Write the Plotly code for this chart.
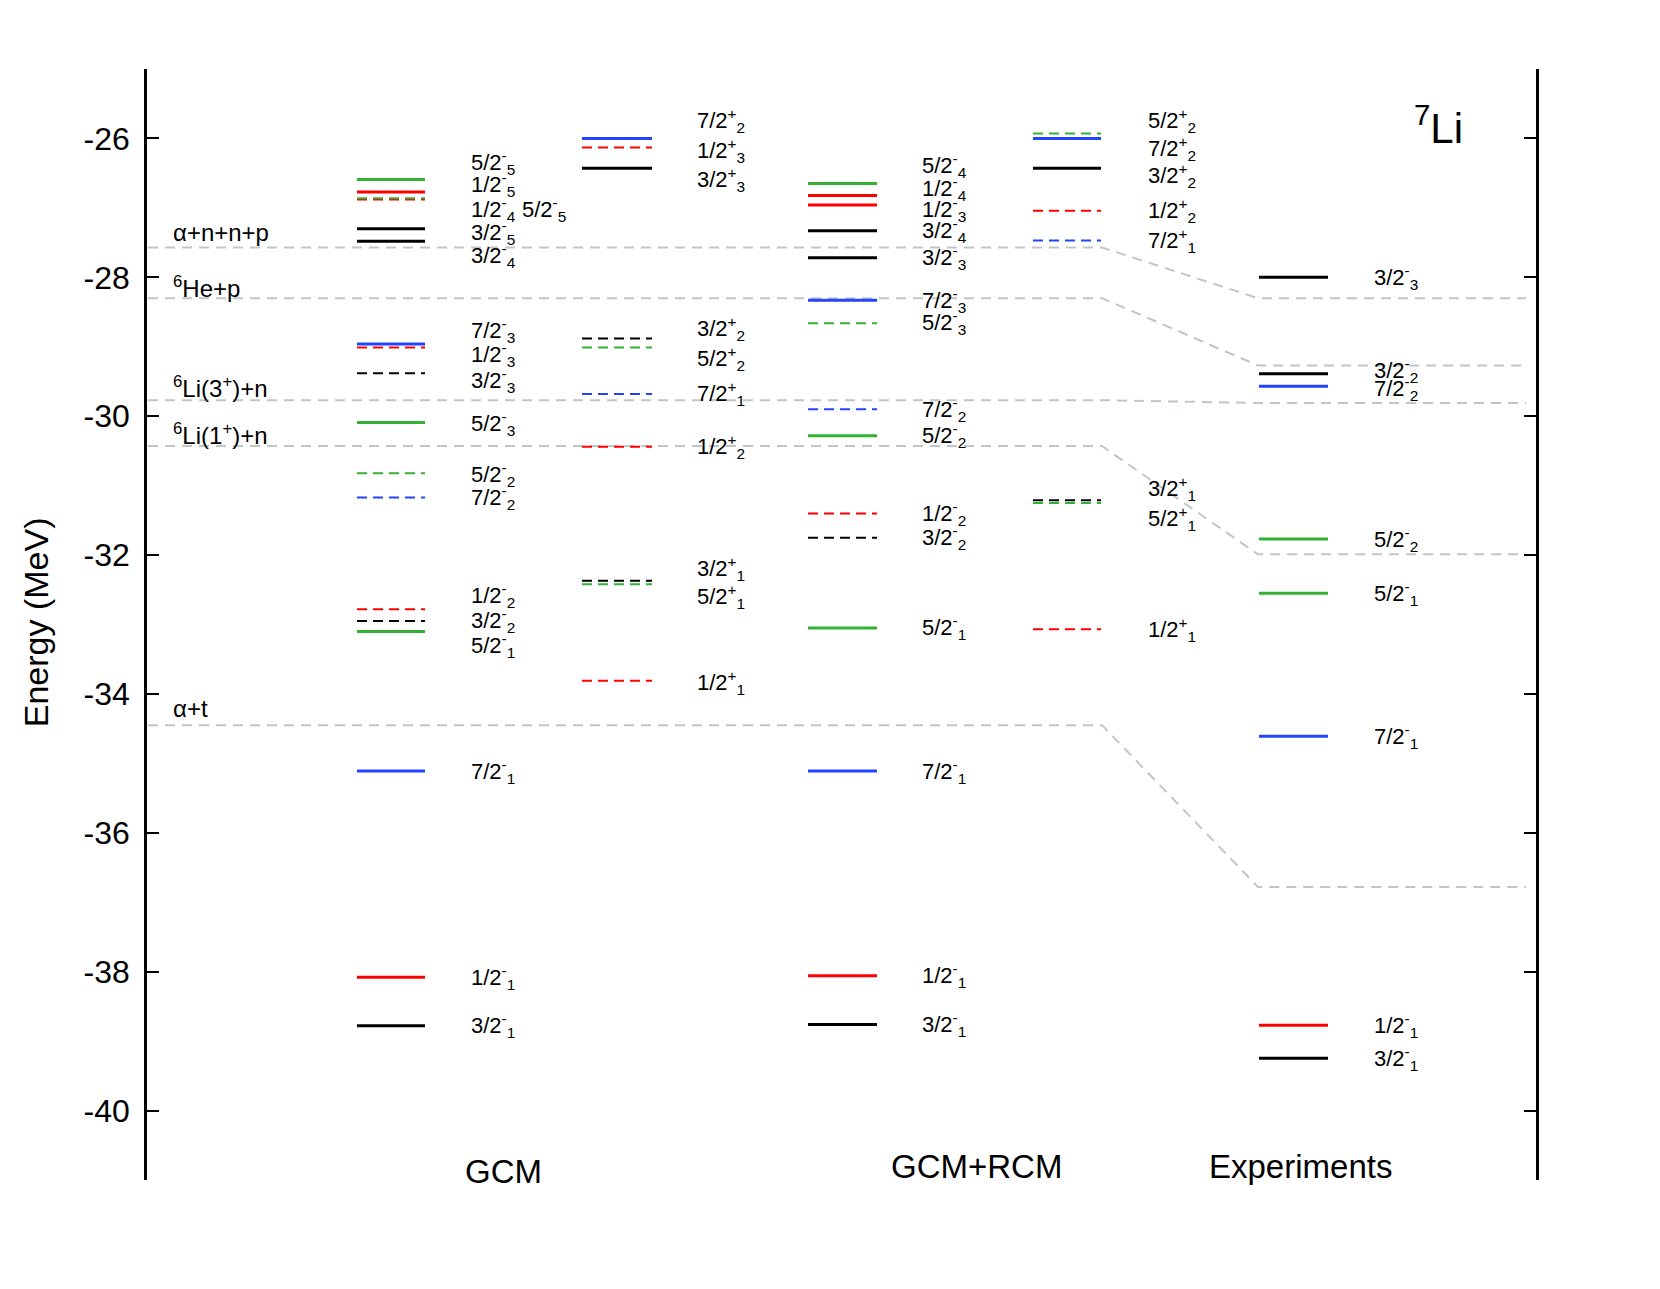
import plotly.graph_objects as go

# ---------------- data (energies in MeV) ----------------
gcm_neg_J = ["5/2", "1/2", "1/2", "5/2", "3/2", "3/2", "7/2", "1/2", "3/2", "5/2",
             "5/2", "7/2", "1/2", "3/2", "5/2", "7/2", "1/2", "3/2"]
gcm_neg_n = [5, 5, 4, 5, 5, 4, 3, 3, 3, 3, 2, 2, 2, 2, 1, 1, 1, 1]
gcm_neg_E = [-26.59, -26.77, -26.88, -26.86, -27.30, -27.48, -28.96, -29.01, -29.38, -30.09,
             -30.82, -31.17, -32.78, -32.95, -33.10, -35.11, -38.08, -38.78]
gcm_neg_dash = [0, 0, 1, 1, 0, 0, 0, 1, 1, 0, 1, 1, 1, 1, 0, 0, 0, 0]
gcm_neg_labE = [-26.34, -26.66, -27.03, -27.03, -27.35, -27.69, -28.76, -29.11, -29.48, -30.10,
                -30.84, -31.17, -32.58, -32.94, -33.30, -35.11, -38.08, -38.78]

gcm_pos_J = ["7/2", "1/2", "3/2", "3/2", "5/2", "7/2", "1/2", "3/2", "5/2", "1/2"]
gcm_pos_n = [2, 3, 3, 2, 2, 1, 2, 1, 1, 1]
gcm_pos_E = [-26.00, -26.13, -26.43, -28.88, -29.01, -29.68, -30.44, -32.37, -32.42, -33.81]
gcm_pos_dash = [0, 1, 0, 1, 1, 1, 1, 1, 1, 1]
gcm_pos_labE = [-25.74, -26.17, -26.59, -28.74, -29.17, -29.68, -30.44, -32.19, -32.60, -33.84]

rcm_neg_J = ["5/2", "1/2", "1/2", "3/2", "3/2", "7/2", "5/2", "7/2", "5/2", "1/2",
             "3/2", "5/2", "7/2", "1/2", "3/2"]
rcm_neg_n = [4, 4, 3, 4, 3, 3, 3, 2, 2, 2, 2, 1, 1, 1, 1]
rcm_neg_E = [-26.65, -26.82, -26.96, -27.33, -27.72, -28.33, -28.66, -29.90, -30.28, -31.40,
             -31.75, -33.05, -35.11, -38.06, -38.76]
rcm_neg_dash = [0, 0, 0, 0, 0, 0, 1, 1, 0, 1, 1, 0, 0, 0, 0]
rcm_neg_labE = [-26.39, -26.72, -27.02, -27.33, -27.72, -28.33, -28.65, -29.90, -30.28, -31.40,
                -31.75, -33.05, -35.11, -38.06, -38.76]

rcm_pos_J = ["5/2", "7/2", "3/2", "1/2", "7/2", "3/2", "5/2", "1/2"]
rcm_pos_n = [2, 2, 2, 2, 1, 1, 1, 1]
rcm_pos_E = [-25.93, -26.00, -26.43, -27.04, -27.47, -31.21, -31.25, -33.07]
rcm_pos_dash = [1, 0, 0, 1, 1, 1, 1, 1]
rcm_pos_labE = [-25.74, -26.14, -26.54, -27.04, -27.47, -31.04, -31.47, -33.07]

exp_J = ["3/2", "3/2", "7/2", "5/2", "5/2", "7/2", "1/2", "3/2"]
exp_n = [3, 2, 2, 2, 1, 1, 1, 1]
exp_E = [-28.00, -29.39, -29.57, -31.77, -32.55, -34.61, -38.77, -39.245]
exp_dash = [0, 0, 0, 0, 0, 0, 0, 0]
exp_labE = [-28.00, -29.34, -29.60, -31.77, -32.55, -34.61, -38.77, -39.245]

thr_names = ["α+n+n+p", "<sup>6</sup>He+p", "<sup>6</sup>Li(3<sup>+</sup>)+n",
             "<sup>6</sup>Li(1<sup>+</sup>)+n", "α+t"]
thr_theory = [-27.57, -28.30, -29.77, -30.43, -34.45]
thr_exp = [-28.30, -29.27, -29.81, -31.99, -36.78]
thr_labE = [-27.35, -28.14, -29.58, -30.26, -34.21]

yticks = [-26, -28, -30, -32, -34, -36, -38, -40]
column_titles = ["GCM", "GCM+RCM", "Experiments"]

# ---------------- styling / layout ----------------
J_COLOR = {"1/2": "#ff0000", "3/2": "#000000", "5/2": "#33b233", "7/2": "#2244ff"}
FONT = "Liberation Sans, Arial, Helvetica, sans-serif"
GRAY = "rgb(192,198,198)"

# x axis in page pixel units
X0, X1 = 147, 1536
columns = [
    # (J, n, E, dash, labE, parity, line x0, line x1, label x)
    (gcm_neg_J, gcm_neg_n, gcm_neg_E, gcm_neg_dash, gcm_neg_labE, "-", 357, 425, 469),
    (gcm_pos_J, gcm_pos_n, gcm_pos_E, gcm_pos_dash, gcm_pos_labE, "+", 582, 652, 695),
    (rcm_neg_J, rcm_neg_n, rcm_neg_E, rcm_neg_dash, rcm_neg_labE, "-", 808, 877, 920),
    (rcm_pos_J, rcm_pos_n, rcm_pos_E, rcm_pos_dash, rcm_pos_labE, "+", 1033, 1101, 1146),
    (exp_J, exp_n, exp_E, exp_dash, exp_labE, "-", 1259, 1328, 1372),
]
label_x_override = {(0, 3): 520}   # second label "5/2-5" placed beside "1/2-4"

fig = go.Figure()

# thresholds
for th, ex in zip(thr_theory, thr_exp):
    fig.add_trace(go.Scatter(
        x=[X0 + 1, 1102, 1258, 1526], y=[th, th, ex, ex], mode="lines",
        line=dict(color=GRAY, width=2, dash="10px,7px"),
        hoverinfo="skip", showlegend=False))

annotations = []
for ci, (Js, ns, Es, ds, lEs, par, x0, x1, lx) in enumerate(columns):
    for k, (J, n, E, d, lE) in enumerate(zip(Js, ns, Es, ds, lEs)):
        fig.add_trace(go.Scatter(
            x=[x0, x1], y=[E, E], mode="lines",
            line=dict(color=J_COLOR[J], width=2 if d else 3,
                      dash="10px,6px" if d else "solid"),
            hoverinfo="skip", showlegend=False))
        annotations.append(dict(
            x=label_x_override.get((ci, k), lx), y=lE, xref="x", yref="y",
            text=f"{J}<sup>{par}</sup><sub>{n}</sub>", showarrow=False,
            xanchor="left", yanchor="middle",
            font=dict(family=FONT, size=22, color="black")))

for name, lE in zip(thr_names, thr_labE):
    annotations.append(dict(
        x=171, y=lE, xref="x", yref="y", text=name, showarrow=False,
        xanchor="left", yanchor="middle",
        font=dict(family=FONT, size=24, color="black")))

for title, tx, ty in zip(column_titles, [503, 976, 1300], [-40.88, -40.81, -40.81]):
    annotations.append(dict(
        x=tx, y=ty, xref="x", yref="y", text=title, showarrow=False,
        xanchor="center", yanchor="middle",
        font=dict(family=FONT, size=33, color="black")))

annotations.append(dict(
    x=(36 - X0) / (X1 - X0), y=0.502, xref="paper", yref="paper",
    text="Energy (MeV)", textangle=-90,
    showarrow=False, xanchor="center", yanchor="middle",
    font=dict(family=FONT, size=34, color="black")))

annotations.append(dict(
    x=1438, y=-25.80, xref="x", yref="y", text="<sup>7</sup>Li", showarrow=False,
    xanchor="center", yanchor="middle",
    font=dict(family=FONT, size=42, color="black")))

fig.update_layout(
    width=1644, height=1273,
    margin=dict(l=139, r=116, t=61, b=101, pad=0),
    paper_bgcolor="white", plot_bgcolor="white",
    annotations=annotations,
    xaxis=dict(range=[X0, X1], visible=False, fixedrange=True),
    yaxis=dict(range=[-41.0, -25.0], tickvals=yticks,
               ticktext=[str(v) for v in yticks],
               showgrid=False, zeroline=False, showline=True, linecolor="black",
               linewidth=2.5, mirror="ticks", ticks="inside", ticklen=12,
               tickwidth=1.5, tickcolor="black", ticklabelstandoff=8,
               tickfont=dict(family=FONT, size=32, color="black")),
)

fig.write_html("out.html")
